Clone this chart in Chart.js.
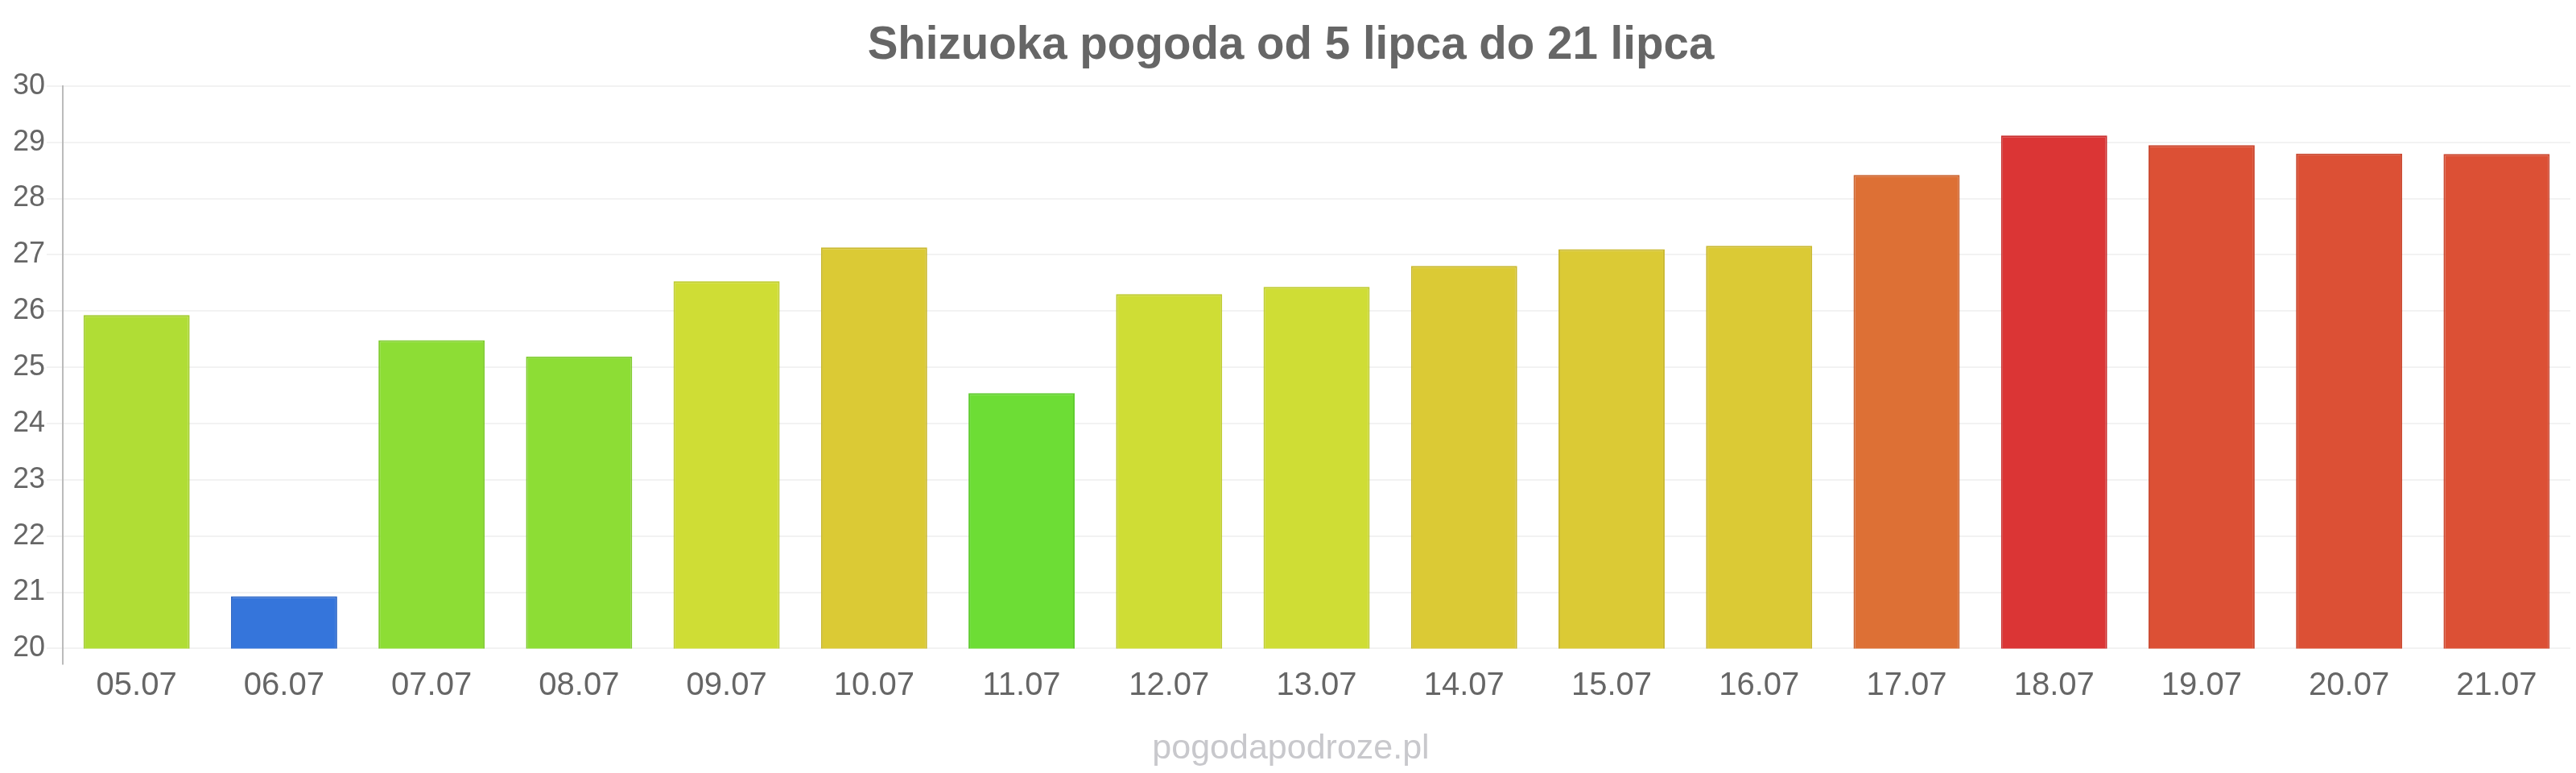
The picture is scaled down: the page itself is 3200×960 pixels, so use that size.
<!DOCTYPE html>
<html>
<head>
<meta charset="utf-8">
<script src="https://cdn.jsdelivr.net/npm/chart.js@4/dist/chart.umd.min.js"></script>
<style>
  html, body { margin: 0; padding: 0; background: #ffffff; }
  #wrap { width: 3200px; height: 960px; position: relative; }
</style>
</head>
<body>
<div id="wrap"><canvas id="c" width="3200" height="960"></canvas></div>
<script>
const categories = ["05.07","06.07","07.07","08.07","09.07","10.07","11.07","12.07","13.07","14.07","15.07","16.07","17.07","18.07","19.07","20.07","21.07"];
const temperatures = [25.93, 20.93, 25.48, 25.19, 26.53, 27.13, 24.54, 26.30, 26.43, 26.80, 27.10, 27.16, 28.42, 29.12, 28.95, 28.80, 28.79];
const barColors = ["#b0dd35","#3575db","#8ddd35","#8ddd35","#cfdd35","#dbca35","#6ddd35","#cfdd35","#cfdd35","#dbca35","#dbca35","#dbca35","#dd7035","#db3535","#dc5035","#dc5035","#dc5035"];
const borderColors = ["#a3cc30","#2f69c8","#80cc30","#80cc30","#bfcc30","#cab930","#60cc30","#bfcc30","#bfcc30","#cab930","#cab930","#cab930","#cc6430","#c83030","#cb4830","#cb4830","#cb4830"];
const yTicks = [20,21,22,23,24,25,26,27,28,29,30];
const titleText = "Shizuoka pogoda od 5 lipca do 21 lipca";
const watermark = "pogodapodroze.pl";

Chart.defaults.font.family = "'Liberation Sans', Arial, sans-serif";
Chart.defaults.color = "#666666";

new Chart(document.getElementById('c'), {
  type: 'bar',
  data: {
    labels: categories,
    datasets: [{
      data: temperatures,
      backgroundColor: barColors,
      borderColor: borderColors,
      borderWidth: 2,
      barPercentage: 0.9,
      categoryPercentage: 0.8
    }]
  },
  options: {
    responsive: false,
    animation: false,
    devicePixelRatio: 1,
    layout: { padding: { left: 14, right: 7, top: 0, bottom: 0 } },
    plugins: {
      legend: { display: false },
      tooltip: { enabled: false },
      title: {
        display: true,
        text: titleText,
        color: '#666666',
        font: { size: 56.5, weight: 'bold' },
        padding: { top: 24, bottom: 15 }
      },
      subtitle: {
        display: true,
        position: 'bottom',
        text: watermark,
        color: '#c8c8cc',
        font: { size: 43, weight: 'normal' },
        padding: { top: 25, bottom: 4 }
      }
    },
    scales: {
      x: {
        offset: true,
        grid: {
          offset: true,
          display: true,
          drawOnChartArea: true,
          tickLength: 20,
          lineWidth: 2,
          color: (ctx) => ctx.index === 0 ? '#bbbbbb' : 'rgba(0,0,0,0)'
        },
        border: { display: false },
        ticks: { color: '#666666', font: { size: 40 }, padding: 3, maxRotation: 0, autoSkip: false }
      },
      y: {
        min: 20,
        max: 30,
        afterBuildTicks: (scale) => { scale.ticks = yTicks.map(v => ({ value: v })); },
        grid: { color: '#f2f2f2', lineWidth: 2, tickLength: 20 },
        border: { display: true, color: '#bbbbbb', width: 2 },
        ticks: { color: '#666666', font: { size: 36 }, padding: 2 }
      }
    }
  }
});
</script>
</body>
</html>
